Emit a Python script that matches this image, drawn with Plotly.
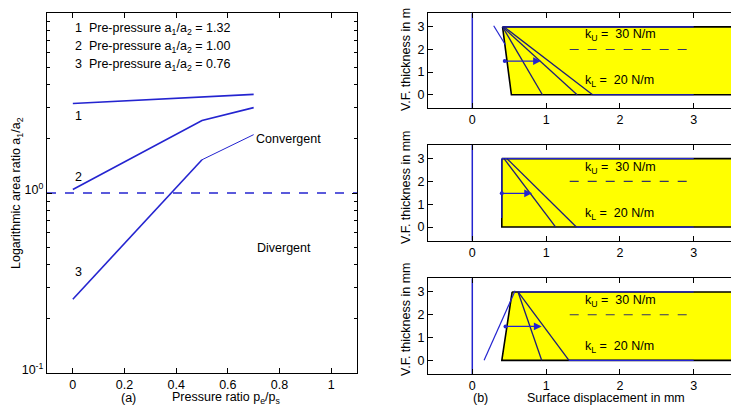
import numpy as np
import plotly.graph_objects as go

# ---------------- data: panel (a) ----------------
pressure_ratio = [0.0, 0.5, 0.7]
ratio_1 = [3.14, 3.42, 3.53]
ratio_2 = [1.045, 2.53, 2.98]
ratio_3 = [0.257, 1.53, 2.11]
legend_lines = ["1  Pre-pressure a<sub>1</sub>/a<sub>2</sub> = 1.32",
                "2  Pre-pressure a<sub>1</sub>/a<sub>2</sub> = 1.00",
                "3  Pre-pressure a<sub>1</sub>/a<sub>2</sub> = 0.76"]
legend_y = [8.2, 6.45, 5.15]
curve_labels = ["1", "2", "3"]
curve_label_y = [2.69, 1.22, 0.363]
x_ticks_a = [0, 0.2, 0.4, 0.6, 0.8, 1]
x_ticktext_a = ["0", "0.2", "0.4", "0.6", "0.8", "1"]
y_ticks_a = [0.1, 1, 10]
y_ticktext_a = ["10<sup>-1</sup>", "10<sup>0</sup>", "10<sup>1</sup>"]

# ---------------- data: panel (b) ----------------
wedge_x = [[0.41, 3.8, 3.8, 0.53, 0.41],
           [0.40, 3.8, 3.8, 0.40, 0.40],
           [0.54, 3.8, 3.8, 0.40, 0.54]]
wedge_y = [[3, 3, 0, 0, 3],
           [3, 3, 0, 0, 3],
           [3, 3, 0, 0, 3]]
fan_top = [[0.41, 0.41, 0.43], [0.43, 0.47], [0.62, 0.62]]
fan_bottom = [[0.95, 1.42, 1.63], [1.13, 1.41], [0.94, 1.31]]
surf_top_start = [0.41, 0.40, 0.62]
surf_bot_start = [1.63, 1.41, 1.31]
surf_end = 3.0
guides = [[0.29, 3.05, 0.45, 2.2], [0.40, 3.0, 0.40, 0.4], [0.16, 0.0, 0.58, 3.05]]
arrows = [[0.44, 0.93, 1.49], [0.40, 0.81, 1.48], [0.45, 0.94, 1.49]]
k_upper = "k<sub>U</sub> =  30 N/m"
k_lower = "k<sub>L</sub> =  20 N/m"
k_upper_y = [2.63, 2.61, 2.59]
k_lower_y = [0.59, 0.56, 0.59]
dash_x = [1.32, 2.96]
dash_y = [2, 2]
b_ticks = [0, 1, 2, 3]

BLUE = "#2424d0"
NAVY = "#1e1e78"
FONT = "Arial, Liberation Sans, Helvetica, sans-serif"

W, H, OFF = 739, 409, 8


def PX(p):
    return (p - OFF) / W


def PY(p):
    return 1 - (p - OFF) / H


fig = go.Figure()

# ---- panel (a) ----
fig.add_trace(go.Scatter(x=[-0.1, 1.1], y=[1, 1], mode="lines",
                         line=dict(color=BLUE, width=1.5, dash="dash"),
                         xaxis="x", yaxis="y"))
fig.add_trace(go.Scatter(x=pressure_ratio, y=ratio_1, mode="lines",
                         line=dict(color=BLUE, width=1.6), xaxis="x", yaxis="y"))
fig.add_trace(go.Scatter(x=pressure_ratio, y=ratio_2, mode="lines",
                         line=dict(color=BLUE, width=1.6), xaxis="x", yaxis="y"))
fig.add_trace(go.Scatter(x=pressure_ratio[:2], y=ratio_3[:2], mode="lines",
                         line=dict(color=BLUE, width=1.6), xaxis="x", yaxis="y"))
fig.add_trace(go.Scatter(x=pressure_ratio[1:], y=ratio_3[1:], mode="lines",
                         line=dict(color=BLUE, width=1.0), xaxis="x", yaxis="y"))

annotations = []
tfont = dict(family=FONT, size=12.5, color="black")
for txt, yv in zip(legend_lines, legend_y):
    annotations.append(dict(x=0.0, y=np.log10(yv), xref="x", yref="y", text=txt,
                            showarrow=False, xanchor="left", yanchor="middle", font=tfont))
for txt, yv in zip(curve_labels, curve_label_y):
    annotations.append(dict(x=0.0, y=np.log10(yv), xref="x", yref="y", text=txt,
                            showarrow=False, xanchor="left", yanchor="middle", font=tfont))
annotations.append(dict(x=0.7, y=np.log10(1.99), xref="x", yref="y", text="Convergent",
                        showarrow=False, xanchor="left", yanchor="middle", font=tfont))
annotations.append(dict(x=0.705, y=np.log10(0.495), xref="x", yref="y", text="Divergent",
                        showarrow=False, xanchor="left", yanchor="middle", font=tfont))


def paper_text(px, py, text, angle=0):
    annotations.append(dict(x=PX(px), y=PY(py), xref="paper", yref="paper", text=text,
                            textangle=angle, showarrow=False, xanchor="center",
                            yanchor="middle", font=tfont))


paper_text(17, 193, "Logarithmic area ratio a<sub>1</sub>/a<sub>2</sub>", -90)
paper_text(226, 398, "Pressure ratio p<sub>e</sub>/p<sub>s</sub>")
paper_text(128, 398, "(a)")

# ---- panel (b) ----
for i in range(3):
    xa = "x%d" % (i + 2)
    ya = "y%d" % (i + 2)
    fig.add_trace(go.Scatter(x=wedge_x[i], y=wedge_y[i], mode="lines", fill="toself",
                             fillcolor="#ffff00", line=dict(color="black", width=1.6),
                             xaxis=xa, yaxis=ya))
    fig.add_trace(go.Scatter(x=[0, 0], y=[-0.6, 3.6], mode="lines",
                             line=dict(color=BLUE, width=1.5), xaxis=xa, yaxis=ya))
    fig.add_trace(go.Scatter(x=[surf_top_start[i], surf_end], y=[3, 3], mode="lines",
                             line=dict(color=BLUE, width=1.2), xaxis=xa, yaxis=ya))
    fig.add_trace(go.Scatter(x=[surf_bot_start[i], surf_end], y=[0, 0], mode="lines",
                             line=dict(color=BLUE, width=1.2), xaxis=xa, yaxis=ya))
    g = guides[i]
    fig.add_trace(go.Scatter(x=[g[0], g[2]], y=[g[1], g[3]], mode="lines",
                             line=dict(color=BLUE, width=1.2), xaxis=xa, yaxis=ya))
    for xt, xb in zip(fan_top[i], fan_bottom[i]):
        fig.add_trace(go.Scatter(x=[xt, xb], y=[3, 0], mode="lines",
                                 line=dict(color=NAVY, width=1.3), xaxis=xa, yaxis=ya))
    fig.add_trace(go.Scatter(x=dash_x, y=dash_y, mode="lines",
                             line=dict(color="#333366", width=1.2, dash="dash"),
                             xaxis=xa, yaxis=ya))
    a = arrows[i]
    fig.add_trace(go.Scatter(x=[a[0]], y=[a[2]], mode="markers",
                             marker=dict(color=BLUE, size=4), xaxis=xa, yaxis=ya))
    annotations.append(dict(x=a[1], y=a[2], ax=a[0], ay=a[2], xref=xa, yref=ya,
                            axref=xa, ayref=ya, showarrow=True, arrowhead=2,
                            arrowsize=1.2, arrowwidth=1.3, arrowcolor=BLUE, text=""))
    annotations.append(dict(x=1.5, y=k_upper_y[i], xref=xa, yref=ya, text=k_upper,
                            showarrow=False, xanchor="left", yanchor="middle", font=tfont))
    annotations.append(dict(x=1.5, y=k_lower_y[i], xref=xa, yref=ya, text=k_lower,
                            showarrow=False, xanchor="left", yanchor="middle", font=tfont))

for yc in [55, 188, 320]:
    paper_text(406, yc, "V.F. thickness in mm", -90)
paper_text(606, 398, "Surface displacement in mm")
paper_text(480, 398, "(b)")

axis_common = dict(showline=True, linecolor="black", linewidth=1.2, mirror="ticks",
                   ticks="inside", ticklen=5, tickcolor="black", showgrid=False,
                   zeroline=False, automargin=False,
                   tickfont=dict(family=FONT, size=12.5, color="black"))

minor_vals = [v * m for m in (0.1, 1) for v in range(2, 10)]

layout = dict(
    template="none",
    width=W, height=H, margin=dict(l=0, r=0, t=0, b=0, autoexpand=False),
    paper_bgcolor="white", plot_bgcolor="white", showlegend=False,
    annotations=annotations,
    xaxis=dict(domain=[PX(47), PX(357)], range=[-0.1, 1.1], tickvals=x_ticks_a,
               ticktext=x_ticktext_a, anchor="y", **axis_common),
    yaxis=dict(domain=[PY(373), PY(13)], type="log", range=[-1, 1],
               tickvals=y_ticks_a, ticktext=y_ticktext_a, anchor="x", ticklabelshift=-3,
               minor=dict(tickvals=minor_vals, ticks="inside", ticklen=3, tickcolor="black"),
               **axis_common),
)
ydoms = [(13.3, 108.3), (145, 240.7), (278.3, 374)]
for i, (t, b) in enumerate(ydoms):
    layout["xaxis%d" % (i + 2)] = dict(domain=[PX(428), PX(738)], range=[-0.6, 3.6],
                                       tickvals=b_ticks, anchor="y%d" % (i + 2), **axis_common)
    layout["yaxis%d" % (i + 2)] = dict(domain=[PY(b), PY(t)], range=[-0.6, 3.6],
                                       tickvals=b_ticks, anchor="x%d" % (i + 2), **axis_common)

fig.update_layout(**layout)
fig.write_html("out.html")
